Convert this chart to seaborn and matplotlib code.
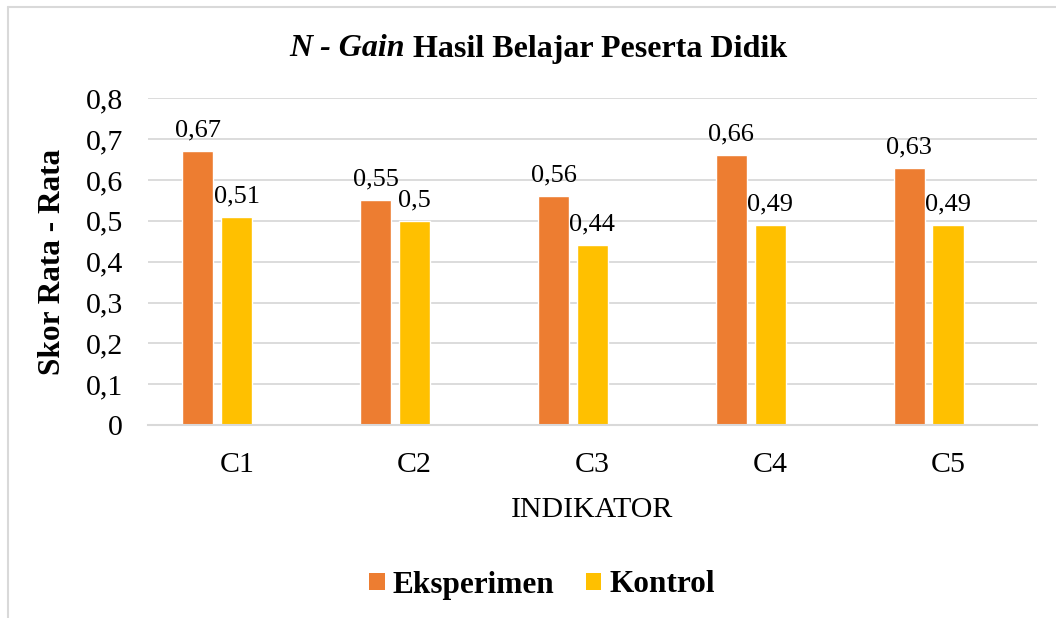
import numpy as np
import pandas as pd
import seaborn as sns
from matplotlib import pyplot as plt
from matplotlib.lines import Line2D
from matplotlib.patches import Patch
from matplotlib.ticker import FuncFormatter

# data
indikator = ['C1', 'C2', 'C3', 'C4', 'C5']
eksperimen = [0.67, 0.55, 0.56, 0.66, 0.63]
kontrol = [0.51, 0.50, 0.44, 0.49, 0.49]
groups = ['Eksperimen', 'Kontrol']
# the source chart keeps an empty third series slot, so bars sit left of the tick
slots = groups + ['(kosong)']
colors = ['#ED7D31', '#FFC000', '#A5A5A5']


def to_df() -> pd.DataFrame:
    record = []
    for c, e, k in zip(indikator, eksperimen, kontrol):
        record.append([c, 'Eksperimen', e])
        record.append([c, 'Kontrol', k])
    return pd.DataFrame(record, columns=['indikator', 'kelompok', 'skor'])


def comma(v):
    s = f'{v:.2f}'.rstrip('0').rstrip('.')
    return s.replace('.', ',')


sns.set_theme(style='white')
plt.rcParams['font.family'] = ['Liberation Serif', 'DejaVu Serif']
plt.rcParams['text.color'] = 'black'
plt.rcParams['axes.labelcolor'] = 'black'

df = to_df()
fig = plt.figure(figsize=(10.56, 6.18), dpi=100)
ax = fig.add_axes([0.140, 0.312, 0.842, 0.529])

sns.barplot(data=df, x='indikator', y='skor', hue='kelompok', order=indikator,
            hue_order=slots, palette=colors, width=0.657, gap=0.2,
            saturation=1, legend=False, ax=ax)

for cont, vals in zip(ax.containers, [eksperimen, kontrol]):
    ax.bar_label(cont, labels=[comma(v) for v in vals], padding=7, fontsize=19)

ax.set_xlim(-0.5, len(indikator) - 0.5)
ax.set_ylim(0, 0.8)
ax.set_yticks(np.arange(0, 0.81, 0.1))
ax.yaxis.set_major_formatter(FuncFormatter(lambda v, p: '0' if abs(v) < 1e-9 else f'{v:.1f}'.replace('.', ',')))
ax.grid(axis='y', color='#D9D9D9', lw=1.3)
ax.set_axisbelow(True)
for side in ['top', 'right', 'left']:
    ax.spines[side].set_visible(False)
ax.spines['bottom'].set_color('#D9D9D9')
ax.spines['bottom'].set_linewidth(1.5)
ax.tick_params(axis='both', length=0, labelsize=21.5, colors='black')
ax.tick_params(axis='y', pad=18)
ax.tick_params(axis='x', pad=19)
ax.set_xlabel('INDIKATOR', fontsize=21.5, labelpad=14)
ax.set_ylabel('Skor Rata - Rata', fontsize=22.5, fontweight='bold', labelpad=13)

# title: "N - Gain" bold italic, rest bold
fig.canvas.draw()
r = fig.canvas.get_renderer()
ty = 1 - 49 / 618
t1 = fig.text(0, ty, 'N - Gain', fontsize=23, fontweight='bold', fontstyle='italic', va='center')
t2 = fig.text(0, ty, 'Hasil Belajar Peserta Didik', fontsize=23, fontweight='bold', va='center')
w1 = t1.get_window_extent(r).width
w2 = t2.get_window_extent(r).width
space = 8
total = w1 + space + w2
x0 = 538 - total / 2
t1.set_x(x0 / 1056)
t2.set_x((x0 + w1 + space) / 1056)

handles = [Patch(facecolor=c, edgecolor='none', label=g) for g, c in zip(groups, colors)]
fig.legend(handles=handles, loc='center', bbox_to_anchor=(542 / 1056, 1 - 585 / 618), ncol=2,
           frameon=False, prop={'weight': 'bold', 'size': 22.5}, handlelength=0.5,
           handleheight=0.5, handletextpad=0.25, columnspacing=1.0)

# chart border (left and top visible in reference)
fig.add_artist(Line2D([8 / 1056, 8 / 1056], [0, 1 - 7 / 618], color='#D9D9D9', lw=1.5))
fig.add_artist(Line2D([8 / 1056, 1], [1 - 7 / 618, 1 - 7 / 618], color='#D9D9D9', lw=1.5))

fig.savefig('out.png', dpi=100)
